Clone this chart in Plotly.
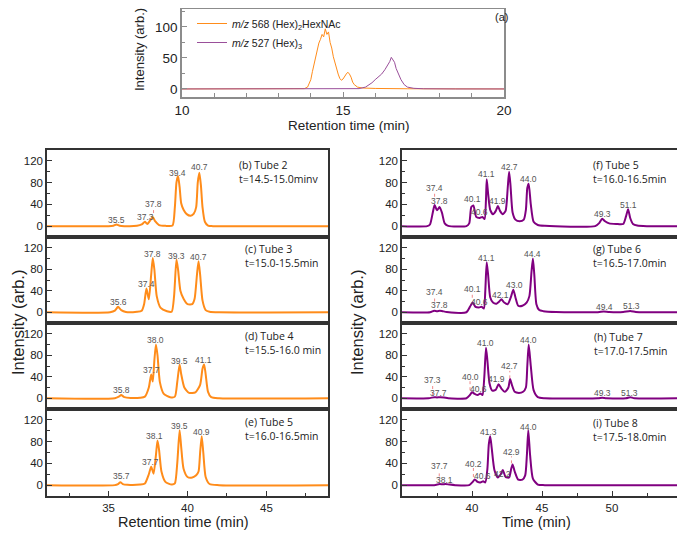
import plotly.graph_objects as go

# The page body adds an 8 px offset, so the figure is sized/positioned to land
# on the reference's 685x533 screen coordinates.
OFF = 8
W, H = 685 - OFF, 533 - OFF
ORANGE = "#FF8C1A"
PURPLE = "#800080"
FONT = "Liberation Sans, Arial, sans-serif"
FONT2 = "Open Sans, sans-serif"

# ---------------- panel (a) data ----------------
a_orange_t = [10.0, 13.0, 13.8, 13.9, 13.95, 14.0, 14.05, 14.1, 14.15, 14.2, 14.25, 14.3, 14.35, 14.4, 14.45,
              14.5, 14.55, 14.6, 14.65, 14.7, 14.75, 14.8, 14.85, 14.9, 14.95, 15.0, 15.05, 15.1, 15.15,
              15.2, 15.25, 15.3, 15.35, 15.45, 15.6, 16.0, 17.0, 18.0, 20.0]
a_orange_y = [0, 0, 0.5, 3, 8, 15, 28, 40, 55, 63, 74, 80, 88, 84, 97,
              88, 92, 75, 66, 52, 42, 30, 24, 17, 14, 16, 21, 24, 27,
              24, 19, 11, 7, 3, 1.5, 0.8, 0.3, 0, 0]
a_purple_t = [10.0, 15.3, 15.5, 15.7, 15.9, 16.0, 16.1, 16.2, 16.3, 16.35, 16.4, 16.45, 16.5, 16.55,
              16.6, 16.65, 16.7, 16.8, 16.9, 17.0, 17.2, 17.5, 18.5, 20.0]
a_purple_y = [0, 0, 0.5, 3, 10, 15, 19, 24, 31, 35, 40, 44, 51, 46,
              43, 33, 26, 15, 7, 3, 1, 0.3, 0, 0]

# ---------------- left column (orange) ----------------
t_b = [31, 35.0, 35.3, 35.5, 35.7, 36.0, 36.8, 37.1, 37.3, 37.45, 37.6, 37.8, 37.95, 38.2, 38.6, 39.05,
       39.2, 39.3, 39.4, 39.5, 39.6, 39.75, 39.95, 40.2, 40.4, 40.55, 40.65, 40.75, 40.85, 40.95, 41.1,
       41.3, 41.6, 49]
y_b = [0, 0, 0.8, 3, 0.8, 0, 0.5, 3, 8, 4, 9, 17, 9, 2, 0.5, 1,
       35, 80, 92, 72, 42, 30, 22, 19, 23, 35, 80, 98, 75, 35, 8,
       1, 0, 0]

t_c = [31, 35.1, 35.4, 35.6, 35.8, 36.1, 36.8, 37.1, 37.25, 37.4, 37.55, 37.7, 37.8, 37.9, 38.05, 38.3,
       38.7, 39.0, 39.15, 39.3, 39.4, 39.55, 39.75, 40.0, 40.3, 40.45, 40.6, 40.7, 40.8, 40.95, 41.15,
       41.4, 42, 49]
y_c = [0, 0, 3, 10, 4, 0.5, 1, 3, 15, 44, 24, 70, 101, 80, 30, 8,
       2, 1, 30, 98, 80, 40, 25, 15, 15, 25, 70, 95, 70, 22, 4,
       1, 0, 0]

t_d = [31, 35.4, 35.65, 35.8, 36.0, 36.4, 37.0, 37.3, 37.55, 37.7, 37.8, 37.9, 38.0, 38.1, 38.25, 38.5,
       38.9, 39.2, 39.35, 39.5, 39.6, 39.8, 40.1, 40.5, 40.8, 40.95, 41.05, 41.15, 41.3, 41.5, 42, 49]
y_d = [0, 0, 3, 6, 2, 0.5, 1, 3, 20, 44, 31, 70, 100, 80, 30, 8,
       2, 3, 30, 63, 45, 20, 10, 11, 25, 55, 63, 45, 12, 2, 0, 0]

t_e = [31, 35.4, 35.6, 35.75, 35.9, 36.2, 37.0, 37.3, 37.55, 37.7, 37.85, 38.0, 38.1, 38.2, 38.35, 38.6,
       39.0, 39.2, 39.35, 39.5, 39.6, 39.75, 40.0, 40.3, 40.55, 40.7, 40.8, 40.9, 41.0, 41.15, 41.4,
       42, 49]
y_e = [0, 0, 2, 5.5, 2, 0.5, 1, 3, 20, 34, 21, 55, 82, 65, 25, 6,
       1, 3, 40, 101, 70, 30, 15, 14, 18, 25, 60, 90, 60, 15, 2,
       0, 0]

# ---------------- right column (purple) ----------------
t_f = [35, 36.8, 37.0, 37.2, 37.33, 37.5, 37.68, 37.85, 38.05, 38.3, 39.6, 39.8, 39.95, 40.1, 40.3,
       40.55, 40.75, 40.9, 41.0, 41.05, 41.15, 41.3, 41.5, 41.7, 41.85, 42.0, 42.2, 42.4, 42.55, 42.65,
       42.75, 42.9, 43.1, 43.4, 43.7, 43.85, 43.95, 44.05, 44.2, 44.4, 44.7, 45.2, 48.8, 49.1, 49.3,
       49.5, 49.8, 50.3, 50.8, 51.0, 51.15, 51.3, 51.5, 51.8, 52.5, 55]
y_f = [0, 0, 3, 25, 39, 29, 35, 25, 5, 0.5, 0, 5, 35, 38, 17,
       15, 17, 13, 50, 86, 60, 30, 22, 28, 37, 28, 22, 28, 70, 100,
       75, 25, 12, 9, 12, 30, 70, 78, 40, 8, 2, 0.5, 0, 6, 13.5,
       9, 5, 4, 4, 18, 31, 15, 4, 1, 0, 0]

t_g = [35, 37.0, 37.3, 37.5, 37.7, 37.9, 38.2, 39.6, 39.85, 40.05, 40.25, 40.5, 40.7, 40.85, 40.95,
       41.05, 41.15, 41.3, 41.5, 41.75, 41.95, 42.1, 42.3, 42.55, 42.8, 42.95, 43.1, 43.3, 43.6, 43.9,
       44.1, 44.25, 44.35, 44.45, 44.6, 44.8, 45.1, 46, 49.0, 49.4, 49.8, 50.8, 51.3, 51.7, 52.5, 55]
y_g = [0, 0, 3, 2, 3, 2, 0.5, 0, 10, 18, 10, 9, 10, 7, 40,
       93, 70, 28, 18, 16, 20, 24, 18, 15, 30, 42, 28, 12, 12, 18,
       30, 75, 100, 70, 15, 4, 2, 0.5, 0, 1.5, 0.5, 0.5, 2.5, 0.5, 0, 0]

t_h = [35, 36.9, 37.3, 37.5, 37.7, 38.0, 38.3, 39.6, 39.85, 40.0, 40.2, 40.4, 40.6, 40.75, 40.88,
       41.0, 41.1, 41.25, 41.45, 41.7, 41.9, 42.1, 42.35, 42.6, 42.72, 42.85, 43.05, 43.35, 43.65,
       43.85, 43.95, 44.05, 44.2, 44.4, 44.7, 45.2, 49.0, 49.3, 49.6, 51.0, 51.3, 51.6, 55]
y_h = [0, 0, 2, 1.5, 2, 1.5, 0, 0, 6, 11, 8, 6, 9, 6, 40,
       94, 70, 28, 14, 16, 26, 18, 12, 20, 36, 25, 12, 10, 12,
       20, 60, 100, 60, 15, 2, 0, 0, 1, 0, 0, 2, 0, 0]

t_i = [35, 37.3, 37.7, 37.9, 38.1, 38.4, 38.8, 39.8, 40.05, 40.2, 40.4, 40.6, 40.8, 40.95, 41.1,
       41.2, 41.3, 41.4, 41.6, 41.85, 42.05, 42.2, 42.4, 42.65, 42.8, 42.9, 43.05, 43.3, 43.6, 43.8,
       43.92, 44.02, 44.15, 44.35, 44.7, 45.2, 55]
y_i = [0, 0, 2, 1.5, 2, 1, 0, 0, 6, 10.5, 6, 5, 7, 5, 30,
       75, 90, 70, 28, 14, 20, 28, 15, 14, 30, 38, 25, 10, 10, 18,
       55, 101, 55, 12, 1, 0, 0]

# ---------------- peak labels (text, x, y) ----------------
lab_b = (["35.5", "37.3", "37.8", "39.4", "40.7"], [35.49, 37.32, 37.85, 39.39, 40.76], [10.5, 16.6, 40, 98, 109])
lab_c = (["35.6", "37.4", "37.8", "39.3", "40.7"], [35.6, 37.38, 37.8, 39.3, 40.72], [19, 52, 108, 105, 103])
lab_d = (["35.8", "37.7", "38.0", "39.5", "41.1"], [35.84, 37.7, 37.97, 39.51, 41.03], [15, 52, 108, 70, 71])
lab_e = (["35.7", "37.7", "38.1", "39.5", "40.9"], [35.8, 37.66, 37.94, 39.51, 40.88], [16, 42.5, 90, 108, 98])
lab_f = (["37.4", "37.8", "40.1", "40.6", "41.1", "41.9", "42.7", "44.0", "49.3", "51.1"],
         [37.33, 37.69, 40.02, 40.52, 41.04, 41.82, 42.65, 44.04, 49.31, 51.2],
         [71, 47, 49, 26, 95, 45.5, 109, 86, 21.5, 38])
lab_g = (["37.4", "37.8", "40.1", "40.6", "41.1", "42.1", "43.0", "44.4", "49.4", "51.3"],
         [37.33, 37.69, 40.02, 40.57, 41.04, 42.06, 43.0, 44.35, 49.43, 51.36],
         [37, 13.5, 42.5, 18.5, 101.5, 32, 50.5, 108, 9, 11.7])
lab_h = (["37.3", "37.7", "40.0", "40.6", "41.0", "41.9", "42.7", "44.0", "49.3", "51.3"],
         [37.19, 37.61, 39.86, 40.45, 40.99, 41.75, 42.7, 44.04, 49.31, 51.27],
         [34, 10.5, 40, 16.6, 103, 35, 60, 108, 9, 10.5])
lab_i = (["37.7", "38.1", "40.2", "40.6", "41.3", "42.2", "42.9", "44.0"],
         [37.66, 38.04, 40.1, 40.73, 41.2, 42.15, 42.82, 44.04],
         [34.5, 8.6, 39, 16, 97, 19.7, 61, 107])

# dotted leader lines (x, y_start, y_end)
lead_b = ([37.85], [24], [32])
lead_f = ([37.33], [54], [63])
lead_g = ([37.33, 40.02], [20, 27], [29, 35])
lead_h = ([37.19, 39.86, 42.7], [6, 15, 37], [26, 33, 51])
lead_i = ([37.66, 40.1, 42.82], [5, 15, 40], [27, 32, 53])

panel_titles = {
    "b": "(b) Tube 2<br>t=14.5-15.0minv",
    "c": "(c) Tube 3<br>t=15.0-15.5min",
    "d": "(d) Tube 4<br>t=15.5-16.0 min",
    "e": "(e) Tube 5<br>t=16.0-16.5min",
    "f": "(f) Tube 5<br>t=16.0-16.5min",
    "g": "(g) Tube 6<br>t=16.5-17.0min",
    "h": "(h) Tube 7<br>t=17.0-17.5min",
    "i": "(i) Tube 8<br>t=17.5-18.0min",
}


def px_x(p):
    return (p - OFF) / W


def px_y(p):
    return 1 - (p - OFF) / H


fig = go.Figure()

# panel (a)
fig.add_trace(go.Scatter(x=a_orange_t, y=a_orange_y, xaxis="x", yaxis="y", mode="lines",
                         line=dict(color=ORANGE, width=1),
                         name="<i>m/z</i> 568 (Hex)<sub>2</sub>HexNAc", hoverinfo="skip"))
fig.add_trace(go.Scatter(x=a_purple_t, y=a_purple_y, xaxis="x", yaxis="y", mode="lines",
                         line=dict(color="#9a4f9a", width=1),
                         name="<i>m/z</i> 527 (Hex)<sub>3</sub>", hoverinfo="skip"))

panels = [
    # key, axis idx, t, y, color, labels, leaders, column, row
    ("b", 2, t_b, y_b, ORANGE, lab_b, lead_b, 0, 0),
    ("c", 3, t_c, y_c, ORANGE, lab_c, None, 0, 1),
    ("d", 4, t_d, y_d, ORANGE, lab_d, None, 0, 2),
    ("e", 5, t_e, y_e, ORANGE, lab_e, None, 0, 3),
    ("f", 6, t_f, y_f, PURPLE, lab_f, lead_f, 1, 0),
    ("g", 7, t_g, y_g, PURPLE, lab_g, lead_g, 1, 1),
    ("h", 8, t_h, y_h, PURPLE, lab_h, lead_h, 1, 2),
    ("i", 9, t_i, y_i, PURPLE, lab_i, lead_i, 1, 3),
]

col_px = [(47, 328), (402, 682)]
row_px = [(150, 237), (237, 323), (323, 409), (409, 496)]
col_range = [[31.1, 48.9], [35.0, 55.0]]
title_pos = {"b": (237, 156), "c": (243, 240), "d": (243, 327), "e": (243, 413),
             "f": (591, 156), "g": (591, 240), "h": (592, 328), "i": (591, 414)}

annotations = []
shapes = []
layout = dict(
    width=W, height=H, margin=dict(l=0, r=0, t=0, b=0, autoexpand=False),
    paper_bgcolor="white", plot_bgcolor="white",
    showlegend=True,
    legend=dict(x=px_x(192), y=px_y(9), xanchor="left", yanchor="top",
                bgcolor="rgba(0,0,0,0)", font=dict(family=FONT, size=10.5, color="#222"),
                itemwidth=30, tracegroupgap=0),
    font=dict(family=FONT, color="#222"),
)

# axes for panel (a)
layout["xaxis"] = dict(domain=[px_x(182), px_x(504)], range=[10, 20], anchor="y",
                       showline=True, mirror=True, linecolor="#8c8c8c", linewidth=1.5,
                       ticks="inside", ticklen=5, tickcolor="#8c8c8c", tickvals=[10, 15, 20],
                       minor=dict(ticks="inside", ticklen=4, tickcolor="#8c8c8c",
                                  tickvals=[11, 12, 13, 14, 16, 17, 18, 19]),
                       showgrid=False, zeroline=False,
                       tickfont=dict(family=FONT, size=13.5, color="#222"))
layout["yaxis"] = dict(domain=[px_y(97), px_y(9)], range=[-13, 129], anchor="x",
                       showline=True, mirror=True, linecolor="#8c8c8c", linewidth=1.5,
                       ticks="inside", ticklen=5, tickcolor="#8c8c8c", tickvals=[0, 50, 100],
                       minor=dict(ticks="inside", ticklen=3, tickcolor="#8c8c8c", tickvals=[25, 75, 125]),
                       showgrid=False, zeroline=False,
                       tickfont=dict(family=FONT, size=13.5, color="#222"))

for key, idx, tt, yy, color, labs, leads, col, row in panels:
    xa, ya = f"x{idx}", f"y{idx}"
    fig.add_trace(go.Scatter(x=tt, y=yy, xaxis=xa, yaxis=ya, mode="lines",
                             line=dict(color=color, width=2, shape="spline", smoothing=0.6),
                             showlegend=False, hoverinfo="skip"))
    bottom = row == 3
    x0, x1 = col_px[col]
    y0, y1 = row_px[row]
    if col == 0:
        xmaj, xmin = [35, 40, 45], [32.5, 37.5, 42.5, 47.5]
    else:
        xmaj, xmin = [40, 45, 50], [37.5, 42.5, 47.5, 52.5]
    layout[f"xaxis{idx}"] = dict(domain=[px_x(x0), px_x(x1)], range=col_range[col], anchor=ya,
                                 showline=True, mirror=True, linecolor="#333", linewidth=1.5,
                                 ticks="inside" if bottom else "", ticklen=5, tickcolor="#333",
                                 tickvals=xmaj, showticklabels=bottom,
                                 minor=dict(ticks="inside" if bottom else "", ticklen=3,
                                            tickcolor="#333", tickvals=xmin),
                                 showgrid=False, zeroline=False,
                                 tickfont=dict(family=FONT, size=11.5, color="#222"))
    layout[f"yaxis{idx}"] = dict(domain=[px_y(y1), px_y(y0)], range=[-20, 140], anchor=xa,
                                 showline=True, mirror=True, linecolor="#333", linewidth=1.5,
                                 ticks="inside", ticklen=5, tickcolor="#333", tickvals=[0, 40, 80, 120],
                                 minor=dict(ticks="inside", ticklen=3, tickcolor="#333",
                                            tickvals=[20, 60, 100]),
                                 showgrid=False, zeroline=False,
                                 tickfont=dict(family=FONT, size=11.5, color="#222"))
    for txt, lx, ly in zip(*labs):
        annotations.append(dict(x=lx, y=ly, xref=xa, yref=ya, text=txt, showarrow=False,
                                font=dict(family=FONT, size=8.5, color="#555"),
                                xanchor="center", yanchor="middle"))
    if leads:
        for lx, ly0, ly1 in zip(*leads):
            shapes.append(dict(type="line", xref=xa, yref=ya, x0=lx, x1=lx, y0=ly0, y1=ly1,
                               line=dict(color="#f08a8a", width=1, dash="dot")))
    tx, ty = title_pos[key]
    annotations.append(dict(x=px_x(tx), y=px_y(ty), xref="paper", yref="paper",
                            text=panel_titles[key], showarrow=False, align="left",
                            xanchor="left", yanchor="top",
                            font=dict(family=FONT2, size=10.5, color="#222")))


def paper_text(px, py, text, size, angle=0):
    return dict(x=px_x(px), y=px_y(py), xref="paper", yref="paper", text=text,
                textangle=angle, showarrow=False, xanchor="center", yanchor="middle",
                font=dict(family=FONT, size=size, color="#222"))


annotations += [
    paper_text(349, 125, "Retention time (min)", 13.5),
    paper_text(140, 50, "Intensity (arb.)", 13, -90),
    paper_text(501, 17, "(a)", 11),
    paper_text(183, 522, "Retention time (min)", 14.5),
    paper_text(536, 522, "Time (min)", 14.5),
    paper_text(18, 323, "Intensity (arb.)", 16.5, -90),
    paper_text(357, 323, "Intensity (arb.)", 16.5, -90),
]

layout["annotations"] = annotations
layout["shapes"] = shapes
fig.update_layout(**layout)
fig.write_html("out.html")
